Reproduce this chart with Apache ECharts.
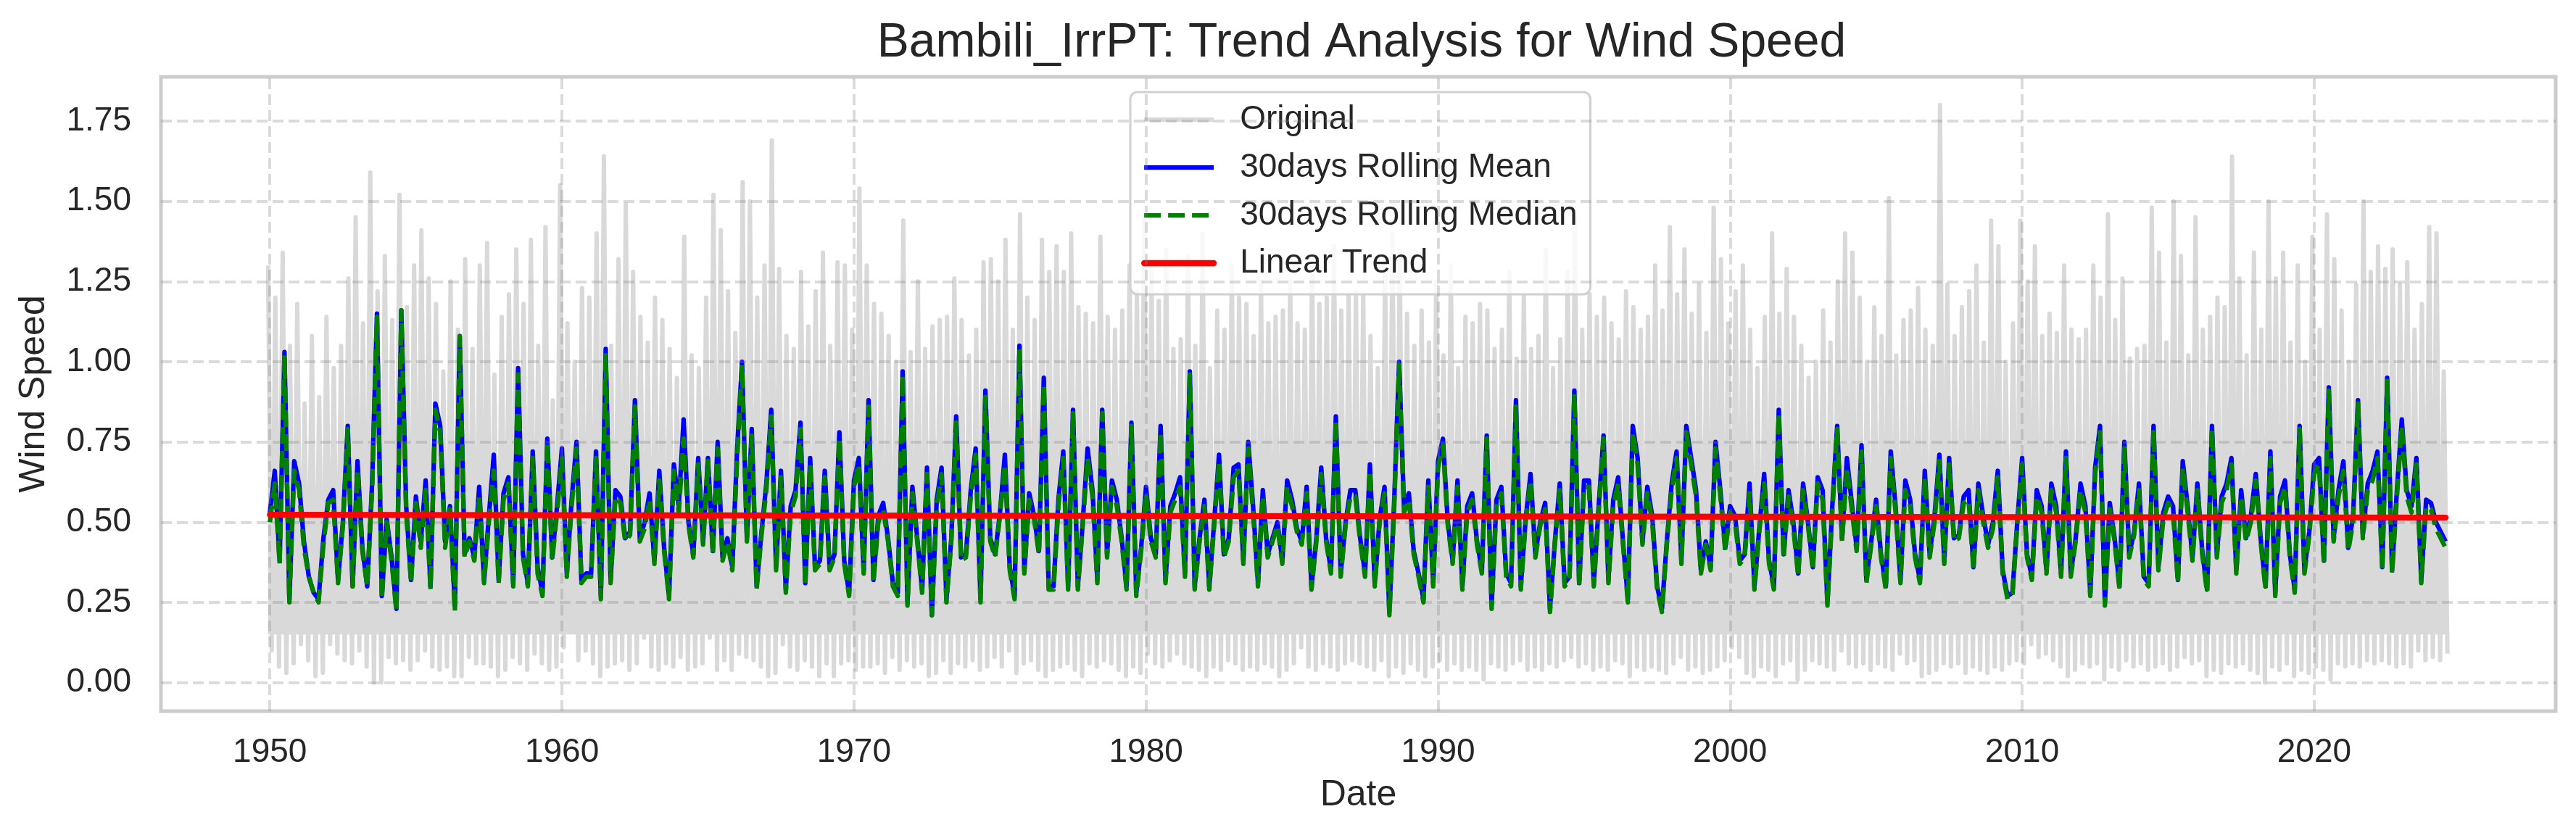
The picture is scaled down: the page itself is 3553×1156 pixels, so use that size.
<!DOCTYPE html>
<html>
<head>
<meta charset="utf-8">
<script src="https://cdn.jsdelivr.net/npm/echarts@6/dist/echarts.min.js"></script>
<style>
html, body { margin: 0; padding: 0; background: #fff; }
#chart { width: 3553px; height: 1156px; }
</style>
</head>
<body>
<div id="chart"></div>
<script>
// time span of the daily record (decimal years)
var startYear = 1950;
var endYear = 2024.5;

var xTicks = [1950, 1960, 1970, 1980, 1990, 2000, 2010, 2020];
var yTicks = [0, 0.25, 0.5, 0.75, 1.0, 1.25, 1.5, 1.75];

// 30-day rolling mean, read every two months
var meanVals = [
  0.53,0.66,0.38,1.03,0.26,0.69, 0.62,0.44,0.33,0.28,0.26,0.45, 0.57,0.60,0.32,0.50,0.80,0.30,
  0.69,0.42,0.30,0.62,1.15,0.27, 0.51,0.39,0.23,1.16,0.55,0.32, 0.58,0.44,0.63,0.30,0.87,0.80,
  0.44,0.55,0.24,1.08,0.40,0.45, 0.39,0.61,0.32,0.52,0.71,0.32, 0.59,0.64,0.31,0.98,0.40,0.31,
  0.72,0.36,0.28,0.76,0.39,0.55, 0.73,0.34,0.57,0.75,0.32,0.34, 0.34,0.72,0.27,1.04,0.32,0.60,
  0.58,0.45,0.47,0.88,0.45,0.50, 0.59,0.38,0.66,0.42,0.27,0.68, 0.55,0.82,0.50,0.40,0.70,0.44,
  0.70,0.41,0.75,0.39,0.45,0.36, 0.73,1.00,0.45,0.79,0.30,0.47, 0.62,0.85,0.36,0.66,0.29,0.55,
  0.60,0.81,0.31,0.70,0.36,0.38, 0.66,0.36,0.40,0.78,0.38,0.28, 0.63,0.70,0.35,0.88,0.32,0.52,
  0.56,0.45,0.31,0.28,0.97,0.25, 0.61,0.45,0.29,0.67,0.21,0.57, 0.67,0.26,0.45,0.83,0.39,0.40,
  0.60,0.73,0.26,0.91,0.45,0.40, 0.53,0.71,0.36,0.27,1.05,0.35, 0.59,0.52,0.41,0.95,0.30,0.30,
  0.57,0.72,0.30,0.85,0.30,0.50, 0.73,0.60,0.32,0.85,0.40,0.63, 0.57,0.45,0.30,0.81,0.28,0.42,
  0.61,0.45,0.40,0.80,0.32,0.55, 0.59,0.64,0.34,0.97,0.30,0.45, 0.57,0.30,0.50,0.71,0.40,0.45,
  0.67,0.68,0.38,0.75,0.55,0.31, 0.60,0.40,0.45,0.50,0.38,0.63, 0.57,0.48,0.44,0.61,0.30,0.45,
  0.67,0.45,0.35,0.83,0.34,0.50, 0.60,0.60,0.45,0.34,0.68,0.31, 0.51,0.61,0.22,0.57,1.00,0.55,
  0.59,0.41,0.34,0.26,0.63,0.31, 0.69,0.76,0.50,0.38,0.63,0.30, 0.55,0.59,0.44,0.35,0.77,0.24,
  0.57,0.61,0.34,0.31,0.88,0.30, 0.51,0.65,0.40,0.50,0.56,0.23, 0.44,0.62,0.31,0.33,0.91,0.31,
  0.63,0.63,0.31,0.55,0.77,0.32, 0.57,0.64,0.44,0.26,0.80,0.70, 0.44,0.61,0.52,0.30,0.23,0.44,
  0.62,0.72,0.38,0.80,0.70,0.60, 0.35,0.44,0.36,0.75,0.60,0.42, 0.55,0.52,0.38,0.40,0.62,0.30,
  0.48,0.65,0.38,0.30,0.85,0.40, 0.60,0.50,0.34,0.62,0.50,0.36, 0.64,0.60,0.25,0.55,0.80,0.45,
  0.70,0.56,0.42,0.74,0.32,0.44, 0.57,0.40,0.30,0.72,0.55,0.32, 0.63,0.57,0.40,0.32,0.66,0.40,
  0.52,0.71,0.38,0.70,0.45,0.46, 0.58,0.60,0.36,0.62,0.52,0.43, 0.50,0.66,0.35,0.27,0.28,0.50,
  0.70,0.40,0.33,0.60,0.55,0.35, 0.62,0.55,0.34,0.72,0.34,0.45, 0.62,0.55,0.28,0.67,0.80,0.25,
  0.56,0.45,0.30,0.75,0.40,0.47, 0.62,0.33,0.31,0.80,0.36,0.53, 0.58,0.55,0.32,0.69,0.55,0.39,
  0.62,0.41,0.29,0.80,0.40,0.58, 0.62,0.70,0.35,0.60,0.45,0.52, 0.65,0.45,0.30,0.72,0.28,0.58,
  0.63,0.40,0.29,0.80,0.35,0.47, 0.68,0.70,0.38,0.92,0.45,0.60, 0.69,0.42,0.52,0.88,0.46,0.62,
  0.66,0.72,0.36,0.95,0.35,0.60, 0.82,0.60,0.55,0.70,0.32,0.57, 0.56,0.50,0.47,0.44
];

// 30-day rolling median, same sampling
var medianVals = [
  0.50,0.62,0.37,1.02,0.25,0.66, 0.60,0.42,0.33,0.28,0.25,0.43, 0.56,0.57,0.31,0.49,0.79,0.30,
  0.66,0.41,0.30,0.60,1.14,0.26, 0.50,0.38,0.22,1.16,0.53,0.31, 0.56,0.42,0.60,0.29,0.85,0.78,
  0.42,0.54,0.22,1.08,0.39,0.44, 0.38,0.58,0.31,0.50,0.66,0.31, 0.57,0.62,0.30,0.96,0.39,0.30,
  0.70,0.34,0.27,0.75,0.38,0.53, 0.70,0.33,0.55,0.73,0.31,0.33, 0.33,0.70,0.26,1.02,0.31,0.58,
  0.56,0.44,0.46,0.86,0.44,0.48, 0.57,0.37,0.63,0.41,0.26,0.66, 0.53,0.76,0.49,0.39,0.68,0.43,
  0.69,0.40,0.73,0.38,0.44,0.35, 0.70,0.99,0.44,0.77,0.29,0.46, 0.60,0.83,0.35,0.64,0.28,0.53,
  0.58,0.79,0.30,0.68,0.35,0.37, 0.64,0.35,0.39,0.76,0.37,0.27, 0.61,0.68,0.34,0.86,0.31,0.50,
  0.54,0.44,0.30,0.27,0.96,0.24, 0.59,0.44,0.28,0.65,0.21,0.55, 0.65,0.25,0.44,0.81,0.38,0.39,
  0.58,0.71,0.25,0.89,0.44,0.39, 0.52,0.68,0.35,0.26,1.04,0.34, 0.57,0.51,0.40,0.93,0.29,0.29,
  0.55,0.70,0.29,0.84,0.29,0.49, 0.70,0.58,0.31,0.84,0.39,0.61, 0.55,0.44,0.29,0.80,0.27,0.41,
  0.59,0.44,0.39,0.78,0.31,0.53, 0.57,0.61,0.33,0.96,0.29,0.44, 0.55,0.29,0.49,0.69,0.39,0.44,
  0.64,0.66,0.37,0.73,0.53,0.30, 0.58,0.39,0.44,0.49,0.37,0.61, 0.55,0.47,0.43,0.59,0.29,0.44,
  0.65,0.44,0.34,0.82,0.33,0.49, 0.58,0.58,0.44,0.33,0.66,0.30, 0.50,0.59,0.21,0.55,0.99,0.53,
  0.57,0.40,0.33,0.25,0.61,0.30, 0.67,0.74,0.49,0.37,0.61,0.29, 0.53,0.57,0.43,0.34,0.76,0.23,
  0.55,0.59,0.33,0.30,0.86,0.29, 0.50,0.63,0.39,0.49,0.54,0.22, 0.43,0.60,0.30,0.32,0.90,0.30,
  0.61,0.61,0.30,0.53,0.76,0.31, 0.55,0.62,0.43,0.25,0.78,0.68, 0.43,0.59,0.50,0.29,0.22,0.43,
  0.60,0.70,0.37,0.78,0.68,0.58, 0.34,0.43,0.35,0.73,0.58,0.41, 0.53,0.50,0.37,0.39,0.59,0.29,
  0.47,0.62,0.37,0.29,0.84,0.39, 0.58,0.48,0.33,0.60,0.49,0.35, 0.62,0.57,0.24,0.53,0.79,0.44,
  0.67,0.54,0.41,0.72,0.31,0.43, 0.55,0.39,0.29,0.70,0.53,0.31, 0.60,0.55,0.39,0.31,0.64,0.39,
  0.50,0.69,0.37,0.68,0.44,0.45, 0.56,0.57,0.35,0.60,0.50,0.42, 0.48,0.64,0.34,0.26,0.27,0.49,
  0.68,0.39,0.32,0.58,0.53,0.34, 0.60,0.53,0.33,0.70,0.33,0.44, 0.60,0.53,0.27,0.65,0.78,0.24,
  0.54,0.44,0.29,0.73,0.39,0.46, 0.60,0.32,0.30,0.79,0.35,0.51, 0.56,0.53,0.31,0.67,0.53,0.38,
  0.60,0.40,0.28,0.79,0.39,0.56, 0.60,0.68,0.34,0.58,0.44,0.50, 0.63,0.44,0.29,0.70,0.27,0.56,
  0.61,0.39,0.28,0.79,0.34,0.46, 0.65,0.68,0.37,0.91,0.44,0.58, 0.66,0.41,0.50,0.87,0.45,0.60,
  0.63,0.70,0.35,0.94,0.34,0.58, 0.80,0.58,0.53,0.68,0.31,0.55, 0.54,0.48,0.45,0.42
];

// daily series: quarterly peaks and troughs of the grey band
var origHigh = [
  1.30,1.20,1.34,1.05, 1.18,0.87,1.08,0.89, 1.14,0.98,1.05,1.26, 1.45,1.12,1.59,1.22,
  1.33,1.13,1.52,1.17, 1.30,1.41,1.26,1.18, 0.97,1.25,1.10,1.32, 1.04,1.30,1.37,0.96,
  1.14,1.21,1.35,1.18, 1.38,1.05,1.42,0.88, 1.55,1.12,1.00,1.23, 1.20,1.40,1.64,1.05,
  1.32,
  1.49,1.28,1.14,1.06,1.20,1.13,1.04,0.95,1.39,1.02, 0.98,1.20,1.52,1.41,1.22,1.09,1.56,1.50,1.20,1.30,
  1.69,1.29,1.08,1.04,1.28,1.11,1.22,1.34,1.05,1.31, 1.30,1.10,1.54,1.30,1.18,1.15,1.08,1.00,1.44,1.03,
  1.25,1.04,1.11,1.13,1.14,1.26,1.13,1.02,1.10,1.31,
  1.32,1.25,1.38,1.10,1.46,1.20,1.13,1.38,1.28,1.36, 1.28,1.40,1.17,1.15,1.12,1.39,1.14,1.10,1.16,1.30,
  1.22,1.45,1.28,1.19,1.35,1.04,1.07,1.33,1.05,1.40, 0.98,1.16,1.10,1.30,1.20,1.18,1.08,1.25,1.12,1.14,
  1.16,1.25,1.12,1.10,1.32,1.18,1.20,1.36,1.16,1.21,
  1.22,1.21,1.08,0.98,1.30,1.40,1.35,1.15,1.05,1.16, 1.06,1.25,1.02,1.30,0.98,1.14,1.12,1.18,1.16,1.04,
  1.10,1.28,1.01,1.21,1.04,1.08,1.35,0.98,1.07,1.28, 1.45,1.10,1.21,1.14,1.20,1.12,1.07,1.22,1.17,1.10,
  1.14,1.30,1.16,1.42,1.21,1.35,1.15,1.24,1.09,1.48, 1.32,
  1.12,1.22,1.30,1.10,0.98,1.14,1.40,1.15,1.29,1.14, 1.05,0.95,1.00,1.16,1.06,1.25,1.40,1.34,1.20,1.00,
  1.17,1.08,1.51,1.02,1.13,1.16,1.23,1.10,1.05,1.80, 1.24,1.08,1.17,1.22,1.30,1.06,1.44,1.36,1.00,1.12,
  1.44,1.25,1.36,1.08,1.15,1.09,1.30,1.10,1.07,1.10,
  1.30,1.20,1.46,1.13,1.26,1.01,1.04,1.05,1.48,1.34, 1.06,1.50,1.33,1.02,1.45,1.10,1.14,1.20,1.17,1.64,
  1.26,1.02,1.34,1.10,1.50,1.26,1.34,1.06,1.30,1.00, 1.39,1.10,1.46,1.32,1.16,1.00,1.24,1.50,1.28,1.36,
  1.29,1.35,1.24,1.31,1.10,1.18,1.42,1.40,0.97
];
var origLow = [
  0.10,0.05,0.03,0.06, 0.12,0.07,0.02,0.03, 0.12,0.09,0.07,0.06, 0.10,0.05,0.00,0.00,
  0.08,0.06,0.07,0.04, 0.07,0.10,0.05,0.04, 0.05,0.02,0.02,0.08, 0.06,0.06,0.05,0.02,
  0.04,0.08,0.06,0.04, 0.09,0.06,0.04,0.05, 0.11,0.16,0.07,0.10, 0.06,0.02,0.05,0.06,
  0.07,
  0.04,0.06,0.14,0.05,0.04,0.06,0.05,0.08,0.04,0.05, 0.06,0.14,0.04,0.07,0.04,0.09,0.08,0.07,0.05,0.02,
  0.03,0.12,0.05,0.04,0.07,0.05,0.02,0.06,0.02,0.06, 0.07,0.04,0.05,0.05,0.06,0.03,0.08,0.04,0.07,0.05,
  0.06,0.02,0.03,0.07,0.03,0.06,0.05,0.07,0.04,0.05,
  0.08,0.05,0.10,0.03,0.06,0.07,0.04,0.02,0.04,0.05, 0.06,0.04,0.02,0.06,0.05,0.07,0.06,0.04,0.02,0.05,
  0.03,0.09,0.06,0.05,0.07,0.09,0.06,0.05,0.04,0.02, 0.05,0.04,0.07,0.06,0.04,0.05,0.04,0.06,0.05,0.02,
  0.04,0.06,0.11,0.05,0.04,0.06,0.05,0.04,0.06,0.07,
  0.06,0.05,0.04,0.07,0.02,0.05,0.03,0.06,0.04,0.02, 0.05,0.07,0.04,0.06,0.04,0.05,0.04,0.01,0.06,0.05,
  0.04,0.06,0.07,0.04,0.05,0.04,0.06,0.05,0.07,0.08, 0.05,0.06,0.04,0.05,0.04,0.07,0.06,0.02,0.05,0.04,
  0.05,0.04,0.03,0.06,0.08,0.04,0.05,0.03,0.04,0.05, 0.07,
  0.11,0.08,0.03,0.02,0.05,0.04,0.02,0.06,0.07,0.01, 0.04,0.07,0.06,0.05,0.04,0.10,0.06,0.05,0.06,0.04,
  0.06,0.05,0.04,0.09,0.06,0.07,0.02,0.03,0.04,0.06, 0.05,0.06,0.03,0.05,0.04,0.03,0.05,0.04,0.06,0.07,
  0.06,0.12,0.08,0.09,0.07,0.05,0.02,0.04,0.06,0.05,
  0.06,0.01,0.05,0.04,0.07,0.05,0.06,0.04,0.05,0.06, 0.04,0.05,0.08,0.06,0.07,0.02,0.04,0.03,0.06,0.05,
  0.06,0.04,0.03,0.00,0.05,0.04,0.06,0.02,0.04,0.03, 0.05,0.04,0.01,0.06,0.05,0.06,0.05,0.07,0.06,0.07,
  0.06,0.05,0.06,0.05,0.10,0.07,0.08,0.07,0.09
];

// fitted linear trend at both ends
var trendStart = 0.523;
var trendEnd = 0.514;

var FONT = '"Liberation Sans", Arial, sans-serif';
var TEXT = '#262626';
var ORIG_GREY = '#d9d9d9';

function spread(vals) {
  var step = (endYear - startYear) / (vals.length - 1);
  return vals.map(function (v, i) { return [startYear + i * step, v]; });
}

// peaks and troughs alternate, like the dense daily trace
var origData = [];
var qStep = (endYear - startYear) / (origHigh.length - 1);
for (var i = 0; i < origHigh.length; i++) {
  var t = startYear + i * qStep;
  origData.push([t - qStep / 4, origHigh[i]]);
  origData.push([t + qStep / 4, origLow[i]]);
}

var gridLines = xTicks.map(function (v) { return { xAxis: v }; })
  .concat(yTicks.map(function (v) { return { yAxis: v }; }));

var myChart = echarts.init(document.getElementById('chart'));

var option = {
  backgroundColor: '#ffffff',
  animation: false,
  title: {
    text: 'Bambili_IrrPT: Trend Analysis for Wind Speed',
    left: 1873,
    textAlign: 'center',
    top: 22,
    textStyle: { fontFamily: FONT, fontSize: 66, fontWeight: 'normal', color: TEXT }
  },
  legend: {
    orient: 'vertical',
    left: 1559,
    top: 127,
    data: ['Original', '30days Rolling Mean', '30days Rolling Median', 'Linear Trend'],
    itemWidth: 96,
    itemHeight: 20,
    itemGap: 20,
    padding: [15, 18, 20, 15],
    backgroundColor: 'rgba(255,255,255,0.8)',
    borderColor: '#d0d0d0',
    borderWidth: 3,
    borderRadius: 10,
    selectedMode: false,
    lineStyle: { width: 'inherit' },
    itemStyle: { opacity: 0 },
    textStyle: { fontFamily: FONT, fontSize: 46, lineHeight: 46, color: TEXT, padding: [0, 0, 0, 31] }
  },
  grid: {
    left: 222, right: 28, top: 106, bottom: 175,
    show: true, borderColor: '#cccccc', borderWidth: 5, backgroundColor: '#ffffff'
  },
  xAxis: {
    type: 'value',
    min: 1946.27,
    max: 2028.27,
    axisLine: { show: false },
    axisTick: { show: false },
    splitLine: { show: false },
    axisLabel: {
      customValues: xTicks, margin: 34, fontFamily: FONT, fontSize: 46, color: TEXT,
      formatter: function (v) { return String(v); }
    },
    name: 'Date',
    nameLocation: 'middle',
    nameGap: 91,
    nameTextStyle: { fontFamily: FONT, fontSize: 50, color: TEXT }
  },
  yAxis: {
    type: 'value',
    min: -0.089,
    max: 1.888,
    axisLine: { show: false },
    axisTick: { show: false },
    splitLine: { show: false },
    axisLabel: {
      customValues: yTicks, margin: 41, fontFamily: FONT, fontSize: 46, color: TEXT,
      formatter: function (v) { return v.toFixed(2); }
    },
    name: 'Wind Speed',
    nameLocation: 'middle',
    nameRotate: 90,
    nameGap: 150,
    nameTextStyle: { fontFamily: FONT, fontSize: 50, color: TEXT }
  },
  series: [
    {
      name: 'Original', type: 'line', data: origData, symbol: 'none', silent: true, z: 2,
      itemStyle: { color: ORIG_GREY },
      lineStyle: { color: ORIG_GREY, width: 6, join: 'round' },
      areaStyle: { color: ORIG_GREY, opacity: 1, origin: 0.15 }
    },
    {
      // dashed grid, translucent so it shows through the grey band
      type: 'line', data: [], silent: true, z: 3,
      markLine: {
        silent: true, symbol: 'none', animation: false,
        label: { show: false },
        lineStyle: { color: 'rgba(131,131,131,0.29)', width: 4, type: [15, 7] },
        data: gridLines
      }
    },
    {
      name: '30days Rolling Mean', type: 'line', data: spread(meanVals), symbol: 'none', silent: true, z: 4,
      itemStyle: { color: '#0000ff' },
      lineStyle: { color: '#0000ff', width: 6.25, join: 'round' }
    },
    {
      name: '30days Rolling Median', type: 'line', data: spread(medianVals), symbol: 'none', silent: true, z: 5,
      itemStyle: { color: '#008000' },
      lineStyle: { color: '#008000', width: 6.25, type: [23, 10], join: 'round' }
    },
    {
      name: 'Linear Trend', type: 'line', data: [[startYear, trendStart], [endYear, trendEnd]],
      symbol: 'none', silent: true, z: 6,
      itemStyle: { color: '#ff0000' },
      lineStyle: { color: '#ff0000', width: 8.3, cap: 'round' }
    }
  ]
};

myChart.setOption(option);

window.addEventListener('resize', function () {
  myChart.resize();
});
</script>
</body>
</html>
